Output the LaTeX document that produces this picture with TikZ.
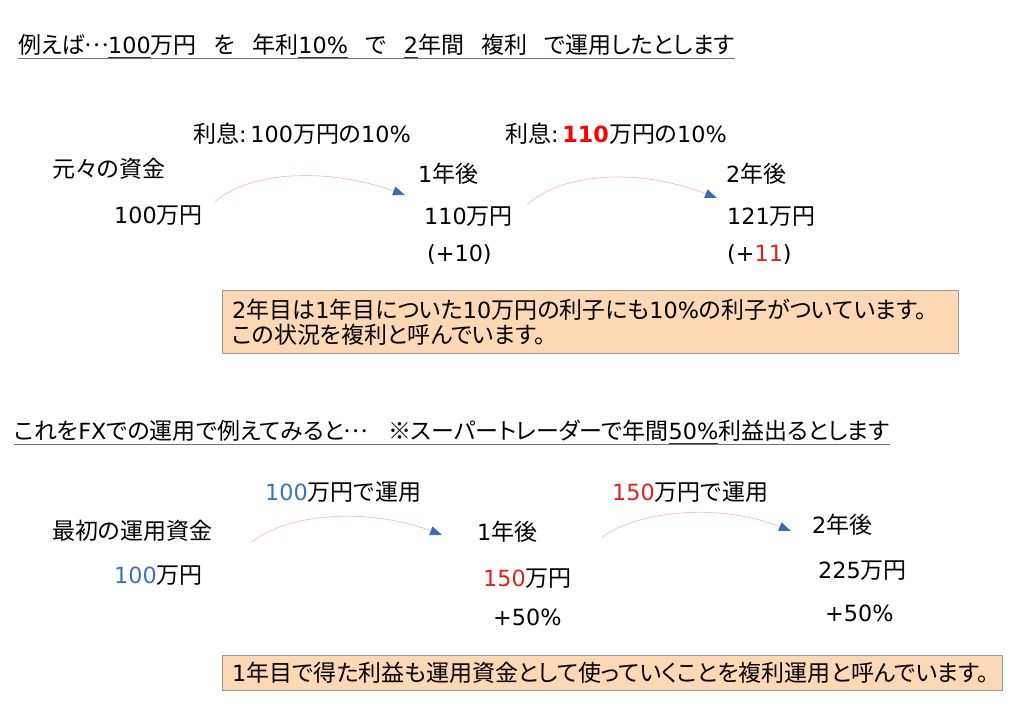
\documentclass[tikz,border=0pt]{standalone}
\usepackage{fontspec}
\setmainfont{Noto Sans CJK JP}[RawFeature=+palt]
\newfontfamily\latinfont{DejaVu Sans}[Scale=0.97]
\usepackage{xcolor}
\usetikzlibrary{arrows.meta, positioning, calc}

\definecolor{notefill}{HTML}{FCD8B4}
\definecolor{noteline}{HTML}{A09A94}
\definecolor{numblue}{HTML}{3F73B8}
\definecolor{numred}{HTML}{E3201C}
\definecolor{curvepink}{HTML}{F4C6C0}
\definecolor{headblue}{HTML}{3A6BB4}

% 数字・英字は幅の広い書体で
\newcommand\lt[1]{{\latinfont #1}}
% 中央の三点リーダ
\newcommand\jpdots{\makebox[1em]{\raisebox{0.3em}{…}}}
% 部分的に濃い下線
\newcommand\darkul[1]{\setbox0\hbox{#1}\rlap{\color{black!80}\rule[-5.5pt]{\wd0}{1.2pt}}\box0}

\begin{document}
\begin{tikzpicture}[
  x=1pt, y=-1pt,
  font=\fontsize{23}{25}\selectfont,
  txt/.style={anchor=base west, inner sep=0pt},
  note/.style={draw=noteline, fill=notefill, anchor=north west, align=left, inner xsep=10pt, inner ysep=0pt},
  uline/.style={draw=black!55, line width=0.9pt},
  flow/.style={-{Triangle[length=12pt, width=9pt, color=headblue]}, draw=curvepink, line width=0.8pt}
]
\useasboundingbox (0,0) rectangle (1024,724);

% 上段：複利の例
\node[txt] (title1) at (18,53) {例えば\jpdots\darkul{\lt{100}}万円\hspace{0.75em}を\hspace{0.75em}年利\darkul{\lt{10\%}}\hspace{0.75em}で\hspace{0.75em}\darkul{\lt{2}}年間\hspace{0.75em}複利\hspace{0.75em}で運用したとします};
\draw[uline] ($(title1.base west)+(0,5)$) -- ($(title1.base east)+(0,5)$);

\node[txt] (int1) at (193,142) {利息\lt{:\,100}万円の\lt{10\%}};
\node[txt] (int2) at (505,142) {利息\lt{:\,}{\bfseries\color{red}\lt{110}}万円の\lt{10\%}};

\node[txt] (orig)  at (52,177)  {元々の資金};
\node[txt] (y1)    at (418,182) {\lt{1}年後};
\node[txt] (y2)    at (726,182) {\lt{2}年後};
\node[txt] (m100)  at (114,223) {\lt{100}万円};
\node[txt] (m110)  at (424,224) {\lt{110}万円};
\node[txt] (m121)  at (727,224) {\lt{121}万円};
\node[txt] (p10)   at (427,261) {\lt{(+10)}};
\node[txt] (p11)   at (727,261) {\lt{(+{\color{numred}11})}};

\coordinate (s1) at (215,202);
\coordinate (e1) at (405,195);
\coordinate (s2) at (527,205);
\coordinate (e2) at (717,198);
\draw[flow] (s1) .. controls (250,170) and (330,168) .. (e1);
\draw[flow] (s2) .. controls (562,172) and (640,168) .. (e2);

\node[note, text width=716pt, minimum height=63pt] (note1) at (222,290)
  {\lt{2}年目は\lt{1}年目についた\lt{10}万円の利子にも\lt{10\%}の利子がついています。\\この状況を複利と呼んでいます。};

% 下段：FXでの例
\node[txt] (title2) at (14,439) {これを\lt{FX}での運用で例えてみると\jpdots\hspace{0.9em}※スーパートレーダーで年間\darkul{\lt{50\%}}利益出るとします};
\draw[uline] ($(title2.base west)+(0,5)$) -- ($(title2.base east)+(0,5)$);

\node[txt] (run1) at (265,500) {{\color{numblue}\lt{100}}万円で運用};
\node[txt] (run2) at (612,500) {{\color{numred}\lt{150}}万円で運用};

\node[txt] (first) at (52,539)  {最初の運用資金};
\node[txt] (fy1)   at (477,540) {\lt{1}年後};
\node[txt] (fy2)   at (812,533) {\lt{2}年後};
\node[txt] (f100)  at (114,583) {{\color{numblue}\lt{100}}万円};
\node[txt] (f150)  at (483,586) {{\color{numred}\lt{150}}万円};
\node[txt] (f225)  at (818,578) {\lt{225}万円};
\node[txt] (g1)    at (493,625) {\lt{+50\%}};
\node[txt] (g2)    at (825,621) {\lt{+50\%}};

\coordinate (s3) at (252,542);
\coordinate (e3) at (442,535);
\coordinate (s4) at (602,537);
\coordinate (e4) at (791,531);
\draw[flow] (s3) .. controls (290,512) and (370,508) .. (e3);
\draw[flow] (s4) .. controls (640,510) and (720,503) .. (e4);

\node[note, text width=760pt, minimum height=35pt] (note2) at (222,655)
  {\lt{1}年目で得た利益も運用資金として使っていくことを複利運用と呼んでいます。};
\end{tikzpicture}
\end{document}
